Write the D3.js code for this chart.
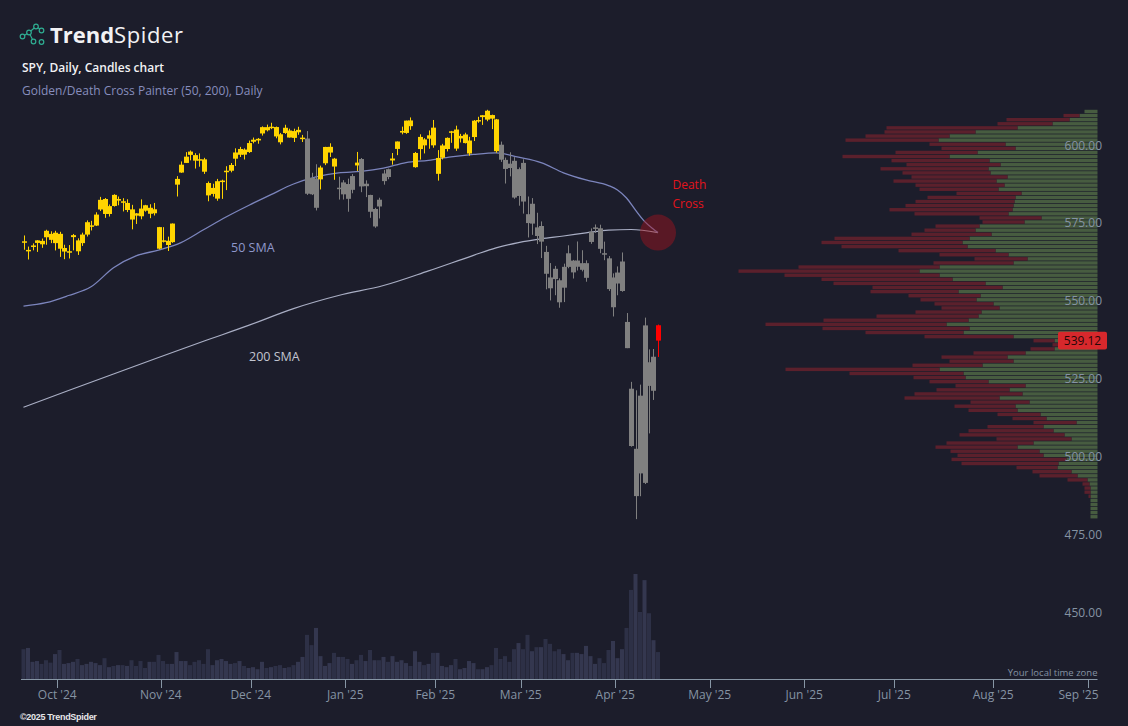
<!DOCTYPE html>
<html>
<head>
<meta charset="utf-8">
<script src="https://cdn.jsdelivr.net/npm/d3@7"></script>
<style>
  body { margin: 0; background: #1c1d2b; }
  svg { display: block; font-family: "Open Sans", sans-serif; }
</style>
</head>
<body>
<svg></svg>
<script>
var width = 1128, height = 726;

// daily bars, 2024-09-19 .. 2025-04-14 (bar index 0..141)
var opens = [571.01,567.84,569.34,570.48,571.14,574.38,573.39,570.42,573.40,567.71,567.36,572.35,571.30,570.42,573.16,575.77,576.05,581.22,584.59,579.78,
  585.91,584.07,583.85,581.05,581.26,579.98,581.51,582.58,579.85,581.29,575.56,571.32,571.18,570.74,589.20,593.08,596.17,599.81,598.68,597.37,
  597.32,589.72,586.22,584.71,590.38,593.40,593.66,599.52,598.80,600.46,599.66,602.97,603.39,605.63,607.66,607.44,607.69,605.37,605.78,606.58,
  606.40,606.00,604.19,604.00,591.36,581.77,590.89,596.06,599.50,597.54,587.89,589.91,589.39,587.53,596.27,597.42,588.70,585.88,575.77,584.36,
  590.33,594.17,596.96,600.67,605.92,605.80,609.81,594.81,600.62,603.72,603.96,607.50,592.67,597.83,600.64,605.99,606.89,604.03,602.55,599.20,
  604.48,609.94,610.88,610.08,611.54,610.16,602.02,597.15,595.93,596.85,585.56,596.18,579.71,576.69,575.48,570.90,567.59,559.40,562.17,558.49,
  556.11,562.79,564.80,562.83,561.86,559.28,570.80,575.30,575.19,567.18,565.53,549.83,557.45,555.05,545.11,523.67,489.19,521.44,493.44,532.17,
  523.01,544.05];
var highs = [572.88,569.31,570.33,571.36,571.89,574.71,574.22,574.38,574.06,569.90,569.80,573.36,571.96,573.78,577.71,577.58,580.33,585.27,584.90,582.83,
  586.12,585.39,584.85,584.50,582.71,580.06,584.46,582.71,582.91,583.32,575.63,575.55,572.50,576.74,591.93,596.65,599.64,600.17,599.29,599.23,
  597.81,590.20,589.49,591.04,590.79,595.12,596.15,600.86,601.33,600.85,603.35,604.32,604.16,607.91,608.48,609.07,607.86,605.80,608.43,607.16,
  607.16,607.78,605.17,606.40,593.00,595.75,595.30,601.34,602.48,597.78,591.74,590.64,591.13,592.60,599.70,597.75,590.58,585.95,581.75,585.00,
  593.94,594.35,599.36,603.06,607.82,609.75,610.78,599.69,605.37,604.13,606.60,609.96,600.29,602.30,604.37,606.45,608.13,605.50,605.86,604.55,
  609.94,610.99,611.49,613.23,611.68,610.30,603.03,597.89,599.58,598.02,594.72,597.34,585.39,584.88,580.17,577.39,569.54,564.02,563.11,559.11,
  563.83,569.71,565.02,570.95,568.14,564.89,575.15,576.41,576.33,570.90,566.27,560.71,562.94,567.42,547.97,525.87,523.17,524.98,546.50,536.30,
  536.43,544.28];
var lows = [568.30,565.17,568.10,567.60,568.91,569.90,570.42,568.08,566.00,565.27,565.49,568.10,566.63,569.53,572.55,574.49,575.91,580.73,578.54,578.96,
  582.16,582.58,580.60,580.38,574.85,576.57,578.08,580.52,578.43,579.29,568.44,570.62,567.89,570.52,585.39,593.00,596.17,597.00,594.37,594.96,
  592.65,583.86,585.34,584.03,584.63,587.45,593.15,595.20,598.07,597.28,599.38,602.47,602.34,604.95,606.30,607.02,604.08,602.13,605.50,604.33,
  602.89,605.21,602.89,585.89,585.85,580.91,587.66,595.47,598.08,590.76,584.41,584.42,580.50,586.43,593.60,586.78,585.20,578.55,575.35,578.35,
  589.20,590.93,595.61,598.67,605.36,605.52,606.80,594.64,597.25,599.22,600.72,601.05,590.49,597.28,599.87,602.63,600.05,602.74,602.43,598.51,
  603.20,609.07,608.38,609.56,607.02,599.47,596.49,589.56,591.86,584.65,582.44,579.90,572.25,573.08,570.12,565.63,555.59,552.02,553.69,549.68,
  551.49,562.35,559.06,561.63,561.35,558.03,570.20,573.69,567.19,564.94,555.07,546.87,553.68,554.81,536.70,505.06,481.80,489.16,493.07,509.32,
  520.07,533.88];
var closes = [570.98,568.25,569.67,571.30,570.04,572.30,571.47,573.76,568.62,568.86,567.82,572.98,567.80,573.17,577.14,576.13,579.58,584.32,579.78,582.30,
  582.35,584.59,583.63,583.32,577.99,579.24,579.04,580.83,581.77,580.01,568.64,571.04,569.81,576.70,591.04,595.61,598.19,598.76,596.90,597.19,
  593.35,585.75,588.15,590.30,590.50,593.67,595.51,597.53,600.65,598.83,602.55,603.63,603.91,607.66,606.66,607.81,604.68,602.80,607.46,604.33,
  604.21,606.79,604.29,586.28,586.10,591.15,594.69,601.30,601.34,595.01,588.22,586.08,584.64,591.95,595.36,588.63,589.49,580.49,581.39,582.19,
  592.78,591.64,597.58,603.05,606.44,609.75,607.97,599.37,604.52,601.81,605.04,601.82,597.77,601.78,604.22,606.32,600.77,604.85,605.31,603.36,
  609.73,609.70,611.49,612.93,610.38,599.94,597.21,594.24,594.54,585.05,594.18,583.77,576.86,583.06,572.71,575.92,560.58,555.92,558.87,551.42,
  562.81,567.15,561.02,564.82,563.98,563.98,574.08,575.46,568.59,567.08,555.66,559.39,560.97,564.52,536.70,505.28,504.38,496.48,544.00,524.58,
  533.94,539.12];
// volume, millions of shares
var volumes = [73,76,42,44,37,46,40,61,71,37,39,42,49,34,37,42,39,34,51,29,
  32,34,34,32,46,32,44,27,42,42,59,44,37,37,66,44,44,34,42,46,
  37,73,34,46,49,44,37,39,44,32,27,29,24,42,27,29,32,34,27,29,
  34,42,54,108,83,125,56,32,39,64,54,54,49,37,46,59,44,71,46,46,
  54,42,56,42,46,39,32,68,42,34,37,64,64,32,29,34,49,24,27,44,
  39,24,24,29,34,76,49,56,42,73,88,73,108,68,78,78,98,86,68,73,
  61,46,64,64,61,81,56,37,51,39,71,93,51,73,125,218,257,164,242,161,
  95,66];
// painter state per bar: 1 = golden (above 50 SMA), 0 = below, 2 = death cross bar
var paint = [1,1,1,1,1,1,1,1,1,1,1,1,1,1,1,1,1,1,1,1, 1,1,1,1,1,1,1,1,1,1,1,1,1,1,1,1,1,1,1,1,
  1,1,1,1,1,1,1,1,1,1,1,1,1,1,1,1,1,1,1,1, 1,1,1,0,0,0,1,1,1,1,0,0,0,0,1,0,0,0,0,0,
  0,0,1,1,1,1,1,1,1,1,1,1,1,1,1,1,1,1,1,1, 1,1,1,1,1,1,0,0,0,0,0,0,0,0,0,0,0,0,0,0,
  0,0,0,0,0,0,0,0,0,0,0,0,0,0,0,0,0,0,0,0, 0,2];

// moving averages (bar index, value)
var sma50Bars = [0,5,10,15,20,25,30,35,40,45,50,55,60,65,70,75,80,85,90,95,100,105,110,115,120,125,130,132,134,136,138,140,141];
var sma50Vals = [550.2,551.3,553.6,556.4,562.5,566.3,568.2,570.6,574.7,578.8,582.5,586.0,589.4,591.7,593.0,593.45,594.5,596.3,597.0,598.1,598.9,599.4,598.0,596.3,593.0,590.7,588.9,587.5,584.9,581.0,577.4,574.9,573.8];
var sma200Bars = [0,10,20,30,40,50,60,70,80,90,100,105,110,115,120,125,130,135,141];
var sma200Vals = [517.7,523.1,528.4,533.7,538.9,544.0,549.4,553.6,556.8,561.5,566.5,568.9,570.6,571.8,572.7,573.7,574.6,574.8,573.8];

// volume by price, 100 rows from the range high down to the range low
var profileHigh = 613.23, profileLow = 481.80;
var profileBuy = [13,18,28,45,80,122,148,159,92,82,120,148,108,97,109,107,90,101,93,99,
  76,82,83,84,85,89,56,73,118,122,106,128,135,130,102,89,70,84,158,178,
  158,145,112,95,139,117,121,104,98,116,119,129,151,128,134,84,43,34,43,72,
  90,84,115,158,134,132,109,72,88,75,98,68,82,80,57,51,21,54,44,33,
  26,64,80,58,54,31,39,40,26,20,10,8,7,7,7,7,7,7,7,7];
var profileSell = [0,16,63,55,131,91,84,93,76,74,82,107,98,94,108,88,96,103,89,79,
  65,88,99,108,123,94,62,42,44,51,80,135,141,126,97,69,53,80,141,181,
  155,131,152,130,88,72,56,59,58,66,102,145,181,147,98,89,21,11,24,52,
  66,64,70,154,114,52,59,70,73,108,95,59,61,49,43,34,43,56,85,105,
  75,87,82,89,86,115,97,41,39,38,20,7,6,6,2,0,0,0,0,0];

var priceTicks = [600, 575, 550, 525, 500, 475, 450];
var monthLabels = ["Oct '24","Nov '24","Dec '24","Jan '25","Feb '25","Mar '25","Apr '25","May '25","Jun '25","Jul '25","Aug '25","Sep '25"];
var monthFirstBar = [8, 31, 51, 72, 92, 111, 132, 153, 174, 194, 216, 237];
var crossBar = 141, crossValue = 573.8;
var lastPrice = "539.12";

var svg = d3.select("svg")
  .attr("width", width)
  .attr("height", height);

svg.append("rect").attr("width", width).attr("height", height).attr("fill", "#1c1d2b");

var plotLeft = 21, plotRight = 1097.5, axisY = 679;

var x = d3.scaleLinear().domain([-0.5, 238.5]).range([21.25, 1096.75]);
var y = d3.scaleLinear().domain([475, 600]).range([540.3, 151.0]);
var yVol = d3.scaleLinear().domain([0, 257]).range([axisY, 574]);

var bars = d3.range(closes.length);

// volume bars
svg.append("g").selectAll("rect")
  .data(bars)
  .enter()
  .append("rect")
  .attr("x", function(i){ return x(i) - 2; })
  .attr("width", 4)
  .attr("y", function(i){ return yVol(volumes[i]); })
  .attr("height", function(i){ return axisY - yVol(volumes[i]); })
  .attr("fill", function(i){ return closes[i] >= opens[i] ? "#34374f" : "#2d3046"; });

// volume profile
var rowStep = (profileHigh - profileLow) / profileBuy.length;
var totals = profileBuy.map(function(b, k){ return b + profileSell[k]; });
var len = d3.scaleLinear().domain([0, d3.max(totals)]).range([0, 359]);
var rows = d3.range(profileBuy.length);
var prof = svg.append("g");
prof.selectAll(".buy")
  .data(rows)
  .enter()
  .append("rect")
  .attr("class", "buy")
  .attr("x", function(k){ return plotRight - len(profileBuy[k]); })
  .attr("width", function(k){ return len(profileBuy[k]); })
  .attr("y", function(k){ return y(profileHigh - k * rowStep); })
  .attr("height", function(k){ return y(profileHigh - (k + 1) * rowStep) - y(profileHigh - k * rowStep) - 0.7; })
  .attr("fill", "#475c40");
prof.selectAll(".sell")
  .data(rows)
  .enter()
  .append("rect")
  .attr("class", "sell")
  .attr("x", function(k){ return plotRight - len(totals[k]); })
  .attr("width", function(k){ return len(profileSell[k]); })
  .attr("y", function(k){ return y(profileHigh - k * rowStep); })
  .attr("height", function(k){ return y(profileHigh - (k + 1) * rowStep) - y(profileHigh - k * rowStep) - 0.7; })
  .attr("fill", "#5b202c");

// moving averages
var line = d3.line()
  .x(function(d){ return x(d[0]); })
  .y(function(d){ return y(d[1]); })
  .curve(d3.curveMonotoneX);

svg.append("path")
  .datum(d3.zip(sma200Bars, sma200Vals))
  .attr("d", line)
  .attr("fill", "none")
  .attr("stroke", "#a9aec4")
  .attr("stroke-width", 1.2);

svg.append("path")
  .datum(d3.zip(sma50Bars, sma50Vals))
  .attr("d", line)
  .attr("fill", "none")
  .attr("stroke", "#7c85bd")
  .attr("stroke-width", 1.3);

// candles
var colors = ["#808080", "#ffd400", "#ff0000"];
var candles = svg.append("g").selectAll("g")
  .data(bars)
  .enter()
  .append("g");

candles.append("rect")
  .attr("x", function(i){ return Math.round(x(i)); })
  .attr("width", 1)
  .attr("y", function(i){ return y(highs[i]); })
  .attr("height", function(i){ return y(lows[i]) - y(highs[i]); })
  .attr("fill", function(i){ return colors[paint[i]]; });

candles.append("rect")
  .attr("x", function(i){ return Math.round(x(i)) - 2; })
  .attr("width", 5)
  .attr("y", function(i){ return y(Math.max(opens[i], closes[i])); })
  .attr("height", function(i){ return Math.max(1.5, Math.abs(y(opens[i]) - y(closes[i]))); })
  .attr("fill", function(i){ return colors[paint[i]]; });

// death cross marker
svg.append("circle")
  .attr("cx", x(crossBar))
  .attr("cy", y(crossValue))
  .attr("r", 18)
  .attr("fill", "#a3141f")
  .attr("fill-opacity", 0.45);

svg.append("text")
  .attr("x", x(crossBar) + 14.5)
  .attr("y", y(crossValue) - 44)
  .attr("fill", "#e3141c")
  .style("font-size", "12px")
  .selectAll("tspan")
  .data(["Death", "Cross"])
  .enter()
  .append("tspan")
  .attr("x", x(crossBar) + 14.5)
  .attr("dy", function(d, k){ return k ? 19 : 0; })
  .text(function(d){ return d; });

svg.append("text")
  .attr("x", 231)
  .attr("y", y(sma50Vals[0]) - 54)
  .attr("fill", "#8f98cc")
  .style("font-size", "12.5px")
  .text("50 SMA");

svg.append("text")
  .attr("x", 249)
  .attr("y", y(sma200Vals[0]) - 46)
  .attr("fill", "#c2c5d0")
  .style("font-size", "12.5px")
  .text("200 SMA");

// price axis labels
svg.append("g").selectAll("text")
  .data(priceTicks)
  .enter()
  .append("text")
  .attr("x", 1102)
  .attr("y", function(d){ return y(d) - 1.5; })
  .attr("text-anchor", "end")
  .attr("fill", "#8593a3")
  .style("font-size", "12px")
  .text(function(d){ return d3.format(".2f")(d); });

// last price tag
var lastY = y(closes[closes.length - 1]);
svg.append("rect")
  .attr("x", 1058)
  .attr("y", lastY - 8.8)
  .attr("width", 49)
  .attr("height", 17.6)
  .attr("rx", 2)
  .attr("fill", "#d7282c");
svg.append("text")
  .attr("x", 1082.5)
  .attr("y", lastY + 4.3)
  .attr("text-anchor", "middle")
  .attr("fill", "#240708")
  .style("font-size", "12px")
  .text(lastPrice);

// time axis
svg.append("line")
  .attr("x1", plotLeft).attr("x2", plotRight)
  .attr("y1", axisY + 0.5).attr("y2", axisY + 0.5)
  .attr("stroke", "#8796a5");

var ticks = svg.append("g").selectAll("g")
  .data(monthLabels)
  .enter()
  .append("g");
ticks.append("line")
  .attr("x1", function(d, k){ return Math.round(x(monthFirstBar[k] - 0.5)) + 0.5; })
  .attr("x2", function(d, k){ return Math.round(x(monthFirstBar[k] - 0.5)) + 0.5; })
  .attr("y1", axisY)
  .attr("y2", axisY + 9)
  .attr("stroke", "#8796a5");
ticks.append("text")
  .attr("x", function(d, k){ return Math.min(x(monthFirstBar[k] - 0.5), plotRight - 19); })
  .attr("y", 698.5)
  .attr("text-anchor", "middle")
  .attr("fill", "#8593a3")
  .style("font-size", "12px")
  .text(function(d){ return d; });

svg.append("text")
  .attr("x", plotRight)
  .attr("y", 676)
  .attr("text-anchor", "end")
  .attr("fill", "#8593a3")
  .style("font-size", "9.5px")
  .text("Your local time zone");

// header
var logo = svg.append("g").attr("fill", "none").attr("stroke", "#2fae92").attr("stroke-width", 1.2);
logo.append("path").attr("d", "M22.5,36.5 L29,32.5 L36,26.5 M29,32.5 L33.5,41.5 M36,26.5 L41.5,30");
[[22.5,36.5],[29,32.5],[36,26.5],[41.5,30.5],[33.5,41.5],[41.5,42]].forEach(function(p){
  logo.append("circle").attr("cx", p[0]).attr("cy", p[1]).attr("r", 2.3).attr("fill", "#1c1d2b");
});

var brand = svg.append("text")
  .attr("x", 50)
  .attr("y", 43.3)
  .attr("fill", "#f2f2f4")
  .style("font-size", "22px");
brand.append("tspan").style("font-weight", 700).text("Trend");
brand.append("tspan").style("font-weight", 400).attr("letter-spacing", 0.6).text("Spider");

svg.append("text")
  .attr("x", 22)
  .attr("y", 72.3)
  .attr("fill", "#f2f2f4")
  .style("font-size", "12px")
  .style("font-weight", 600)
  .text("SPY, Daily, Candles chart");

svg.append("text")
  .attr("x", 22)
  .attr("y", 95.3)
  .attr("fill", "#878dbd")
  .style("font-size", "12px")
  .text("Golden/Death Cross Painter (50, 200), Daily");

svg.append("text")
  .attr("x", 20)
  .attr("y", 720)
  .attr("fill", "#e6e6e8")
  .style("font-family", "'Liberation Sans', Arial, sans-serif")
  .style("font-size", "9px")
  .style("font-weight", 700)
  .attr("letter-spacing", -0.3)
  .text("\u00a92025 TrendSpider");
</script>
</body>
</html>
